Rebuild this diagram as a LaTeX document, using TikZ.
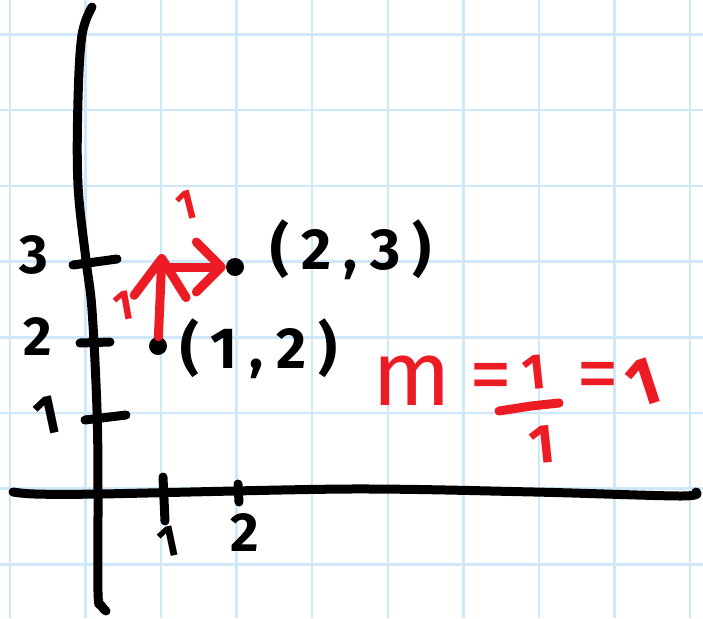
\documentclass[tikz,border=0pt]{standalone}
\usepackage{fontspec}
\usetikzlibrary{arrows.meta}
\newfontfamily\handfont{Fira Sans}
\newfontfamily\handwide[LetterSpace=21]{Fira Sans}
\definecolor{gridblue}{RGB}{206,232,250}
\definecolor{pen}{RGB}{237,28,36}

\begin{document}
\begin{tikzpicture}[x=1pt,y=-1pt,
    gridline/.style={gridblue,line width=2.5pt},
    ink/.style={line width=9pt,line cap=round,line join=round},
    redink/.style={ink,pen},
    lab/.style={inner sep=0pt,font=\handfont\bfseries\fontsize{#1}{#1}\selectfont},
    lab/.default=55,
    ptlab/.style={inner sep=0pt,font=\handwide\bfseries\fontsize{58}{58}\selectfont},
    redlab/.style={inner sep=0pt,text=pen,font=\handfont\bfseries\fontsize{#1}{#1}\selectfont},
    redlab/.default=42,
    redthin/.style={inner sep=0pt,text=pen,font=\handfont\fontsize{#1}{#1}\selectfont},
    dot/.style={circle,fill=black,inner sep=0pt,minimum size=18pt}]
\fill[white] (0,0) rectangle (703,618);
\useasboundingbox (0,0) rectangle (703,618);
% grid paper
\foreach \i in {0,...,9}
  \draw[gridline] ({10+75.55*\i},0) -- ({10+75.55*\i},618);
\foreach \j in {0,...,7}
  \draw[gridline] (0,{34.5+75.7*\j}) -- (703,{34.5+75.7*\j});
% axes and ticks
\draw[ink] plot[smooth,tension=0.6] coordinates {(92,7) (82,35) (78,100) (78,185) (86,260) (92,310) (97,410) (98,490) (98,592) (101,605) (106,611)};
\draw[ink] plot[smooth] coordinates {(13,492) (35,494) (100,494) (350,489) (534,492) (681,496) (696,492)};
\draw[ink] (73,265) -- (117,259);
\draw[ink] (80,343) -- (110,342);
\draw[ink] (85,420) -- (126,415);
\draw[ink] (163,477) -- (165,521);
\draw[ink] (238,484) -- (239,502);
\node[lab] (y3) at (34,255) {3};
\node[lab] (y2) at (38,337) {2};
\node[lab,rotate=12] (y1) at (47,416) {1};
\node[lab=44,rotate=12] (x1) at (168,542) {1};
\node[lab] (x2) at (245,533) {2};
% the two points
\node[dot] (p12) at (158,346) {};
\node[dot] (p23) at (235,267) {};
\node[ptlab] (l12) at (259,349) {(1,2)};
\node[ptlab] (l23) at (351,250) {(2,3)};
% rise and run
\coordinate (turn) at (162,254);
\draw[redink,-{Straight Barb[length=38pt,width=52pt,round]}] (p12) -- (turn);
\draw[redink,-{Straight Barb[length=25pt,width=50pt,round]}] (turn |- p23) -- (p23);
\node[redlab,rotate=10] (rise) at (124,306) {1};
\node[redlab,rotate=14] (run) at (187,205) {1};
% slope
\node[redthin=92] (m) at (412,381) {m};
\node[redthin=86] (eqa) at (491,383) {=};
\node[redlab=50,rotate=6] (num) at (534,372) {1};
\draw[redink] (499,411) -- (531,406) -- (559,403);
\node[redlab=55,rotate=6] (den) at (542,445) {1};
\node[redthin=86] (eqb) at (598,382) {=};
\node[redlab=68,rotate=18] (mval) at (643,383) {1};
\end{tikzpicture}
\end{document}
